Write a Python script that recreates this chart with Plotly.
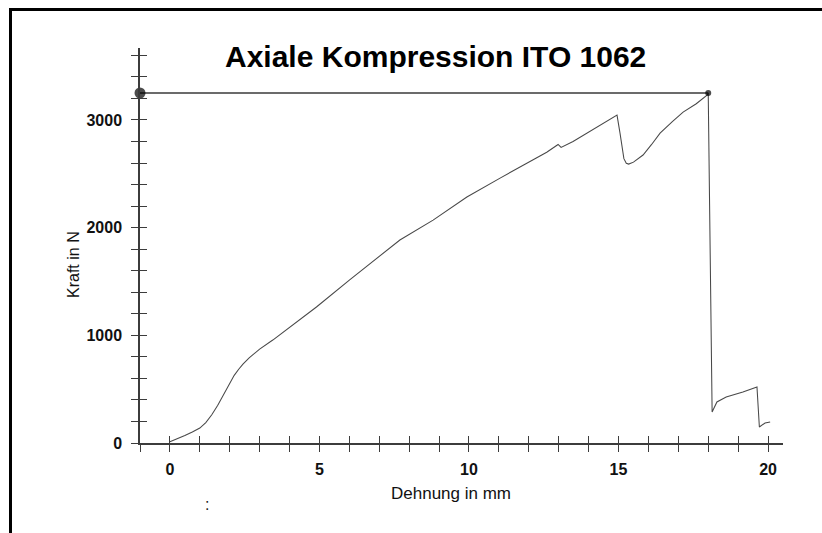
import plotly.graph_objects as go

# ---- data ----
dehnung_mm = [0.0, 0.25, 0.5, 0.75, 1.0, 1.2, 1.4, 1.6, 1.8, 2.0, 2.15, 2.3, 2.45,
              2.65, 3.0, 3.44, 4.24, 4.9, 6.0, 7.26, 7.69, 8.8, 9.93, 11.04, 12.14,
              12.6, 12.98, 13.08, 13.48, 14.95, 15.05, 15.18, 15.26, 15.34,
              15.5, 15.82, 16.1, 16.39, 16.8, 17.16, 17.6, 17.96,
              18.0, 18.13, 18.29, 18.6, 19.16, 19.63, 19.71, 19.9, 20.07]
kraft_N = [12, 38, 70, 102, 139, 190, 262, 350, 450, 557, 628, 685, 735,
           790, 872, 956, 1124, 1263, 1513, 1792, 1885, 2070, 2284, 2460, 2628,
           2700, 2772, 2745, 2800, 3045, 2878, 2640, 2598, 2590,
           2608, 2674, 2770, 2878, 2985, 3073, 3150, 3231,
           3250, 288, 381, 427, 473, 520, 149, 186, 195]

max_line_x = [-1.0, 18.0]
max_line_y = [3250, 3250]

x_ticks = list(range(-1, 21))
x_tick_labels = ["" if v % 5 or v < 0 else "<b>%d</b>" % v for v in x_ticks]
y_ticks = list(range(0, 3601, 200))
y_tick_labels = ["<b>%d</b>" % v if v % 1000 == 0 else "" for v in y_ticks]

title_text = "Axiale Kompression ITO 1062"
x_title = "Dehnung in mm"
y_title = "Kraft in N"

# ---- layout geometry ----
W, H = 822, 533
ML, MR, MT, MB = 140, 39, 48, 90
PW, PH = W - ML - MR, H - MT - MB
X_RANGE = [-1.0, 20.5]
Y_RANGE = [0, 3668]

def px_x(p):
    return (p - ML) / PW

def px_y(p):
    return (H - MB - p) / PH

FONT = "Liberation Sans, Arial, sans-serif"
AX = "#3c3c3c"

fig = go.Figure()
fig.add_trace(go.Scatter(x=dehnung_mm, y=kraft_N, mode="lines",
                         line=dict(color="#484848", width=1.05),
                         showlegend=False, hoverinfo="skip"))
fig.add_trace(go.Scatter(x=max_line_x, y=max_line_y, mode="lines+markers",
                         line=dict(color="#3a3a3a", width=1.3),
                         marker=dict(color="#000", size=[11, 6], line=dict(width=0)),
                         showlegend=False, hoverinfo="skip", cliponaxis=False))
fig.add_trace(go.Scatter(x=[], y=[], xaxis="x2", yaxis="y2", showlegend=False))

axis_common = dict(showgrid=False, zeroline=False, ticklen=7, tickwidth=1,
                   tickcolor=AX, linecolor=AX, linewidth=1.5,
                   tickfont=dict(family=FONT, size=16, color="#111"))

fig.update_layout(
    width=W, height=H, margin=dict(l=ML, r=MR, t=MT, b=MB),
    paper_bgcolor="white", plot_bgcolor="white",
    xaxis=dict(range=X_RANGE, tickmode="array", tickvals=x_ticks, ticktext=x_tick_labels,
               ticks="outside", showline=True, ticklabelstandoff=4, **axis_common),
    yaxis=dict(range=Y_RANGE, tickmode="array", tickvals=y_ticks, ticktext=y_tick_labels,
               ticks="outside", showline=True, ticklabelstandoff=6, **axis_common),
    xaxis2=dict(range=X_RANGE, overlaying="x", anchor="y2", side="bottom",
                tickmode="array", tickvals=x_ticks, ticks="inside",
                showticklabels=False, showline=False, showgrid=False, zeroline=False,
                ticklen=7, tickwidth=1, tickcolor=AX),
    yaxis2=dict(range=Y_RANGE, overlaying="y", anchor="x2", side="left",
                tickmode="array", tickvals=y_ticks, ticks="inside",
                showticklabels=False, showline=False, showgrid=False, zeroline=False,
                ticklen=7, tickwidth=1, tickcolor=AX),
    annotations=[
        dict(text="<b>" + title_text + "</b>", xref="paper", yref="paper",
             x=px_x(435), y=px_y(56), showarrow=False, xanchor="center", yanchor="middle",
             font=dict(family=FONT, size=30, color="#000")),
        dict(text=x_title, xref="paper", yref="paper", x=px_x(451), y=px_y(493),
             showarrow=False, xanchor="center", yanchor="middle",
             font=dict(family=FONT, size=17, color="#111")),
        dict(text=y_title, xref="paper", yref="paper", x=px_x(73), y=px_y(265),
             showarrow=False, xanchor="center", yanchor="middle", textangle=-90,
             font=dict(family=FONT, size=16, color="#111")),
        dict(text=":", xref="paper", yref="paper", x=px_x(207), y=px_y(504),
             showarrow=False, xanchor="center", yanchor="middle",
             font=dict(family=FONT, size=16, color="#222")),
    ],
    shapes=[
        dict(type="line", xref="paper", yref="paper", x0=px_x(10.5), x1=px_x(W),
             y0=px_y(9.5), y1=px_y(9.5), line=dict(color="#000", width=3)),
        dict(type="line", xref="paper", yref="paper", x0=px_x(10.5), x1=px_x(10.5),
             y0=px_y(8), y1=px_y(H), line=dict(color="#000", width=3)),
    ],
)

fig.write_html("out.html")
